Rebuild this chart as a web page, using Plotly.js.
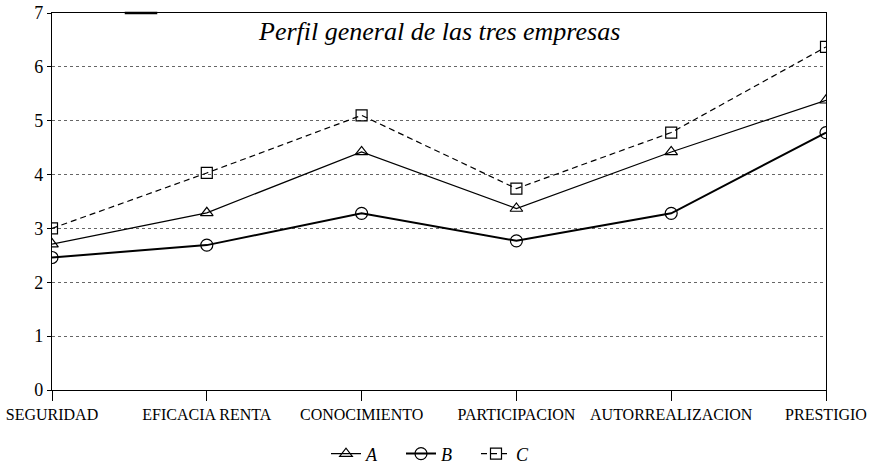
<!DOCTYPE html>
<html><head><meta charset="utf-8">
<script src="https://cdn.plot.ly/plotly-3.0.1.min.js"></script>
<style>html,body{margin:0;padding:0;background:#fff}</style>
</head><body>
<div id="chart" style="width:877px;height:467px"></div>
<script>
const categories = ["SEGURIDAD","EFICACIA RENTA","CONOCIMIENTO","PARTICIPACION","AUTORREALIZACION","PRESTIGIO"];
const seriesA = [2.71, 3.29, 4.42, 3.37, 4.42, 5.38];
const seriesB = [2.46, 2.69, 3.28, 2.77, 3.28, 4.78];
const seriesC = [3.00, 4.03, 5.10, 3.74, 4.78, 6.37];
const yTicks = [0,1,2,3,4,5,6,7];
const titleText = "Perfil general de las tres empresas";

const serif = "Liberation Serif";
const xs = categories.map((c,i)=>i);

const traces = [
  {name:"A", x:xs, y:seriesA, mode:"lines+markers",
   line:{color:"#000", width:1.2},
   marker:{symbol:"triangle-up-open", size:11, color:"#000", line:{width:1.2, color:"#000"}}},
  {name:"B", x:xs, y:seriesB, mode:"lines+markers",
   line:{color:"#000", width:2},
   marker:{symbol:"circle-open", size:12, color:"#000", line:{width:1.2, color:"#000"}}},
  {name:"C", x:xs, y:seriesC, mode:"lines+markers",
   line:{color:"#000", width:1.2, dash:"6px,4px"},
   marker:{symbol:"square-open", size:11, color:"#000", line:{width:1.2, color:"#000"}}}
];

const layout = {
  width:877, height:467,
  margin:{l:52, r:51, t:13, b:77, autoexpand:false},
  paper_bgcolor:"#fff", plot_bgcolor:"#fff",
  showlegend:true,
  legend:{orientation:"h", x:0.5, xanchor:"center", xref:"container", y:0.028, yref:"container", yanchor:"middle",
          font:{family:serif, size:18, color:"#000", style:"italic"}, itemwidth:30,
          entrywidth:30, bgcolor:"rgba(0,0,0,0)"},
  xaxis:{range:[0,5], tickvals:xs, ticktext:categories, showgrid:false, zeroline:false,
         showline:true, linecolor:"#000", linewidth:1.2, mirror:true,
         ticks:"outside", ticklen:10, tickcolor:"#000", tickwidth:1, automargin:false,
         tickfont:{family:serif, size:16, color:"#000"}, tickangle:0, fixedrange:true},
  yaxis:{range:[0,7], tickvals:yTicks, showgrid:true, gridcolor:"#666", griddash:"dot", gridwidth:1,
         zeroline:false, showline:true, linecolor:"#000", linewidth:1.2, mirror:true, automargin:false,
         ticks:"outside", ticklen:4, tickcolor:"#000",
         tickfont:{family:serif, size:18, color:"#000"}, fixedrange:true},
  annotations:[{text:titleText, xref:"paper", yref:"paper", x:0.5, y:0.95, xanchor:"center", yanchor:"middle",
    showarrow:false, font:{family:serif, size:26, color:"#000", style:"italic"}}],
  shapes:[{type:"line", xref:"paper", yref:"paper", x0:0.094, x1:0.136, y0:1, y1:1, line:{color:"#000", width:2.5}}]
};
Plotly.newPlot("chart", traces, layout, {displayModeBar:false, staticPlot:true});
</script>
</body></html>
